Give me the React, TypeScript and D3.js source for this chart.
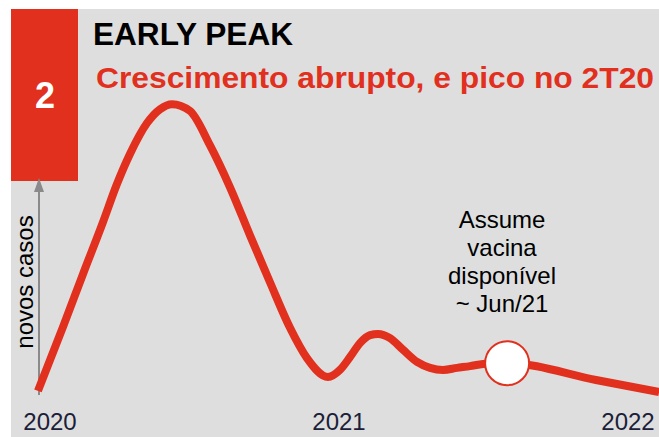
import React, { useEffect, useRef } from "react";
import * as d3 from "d3";

// months since Jan/2020 and relative new cases (schematic curve)
const months = [-0.5, 0.54, 1.37, 2.2, 2.78, 3.32, 4.03, 4.57, 5.07, 5.81, 6.64, 7.47, 8.3, 9.13, 9.97, 10.67, 11.54, 12.04, 12.46, 12.87, 13.29, 13.62, 14.12, 14.66, 15.24, 15.78, 16.32, 16.9, 17.44, 17.98, 18.98, 22.67, 25.29];
const cases = [1.4, 23.1, 41.0, 58.6, 71.5, 81.7, 92.2, 96.9, 98.6, 96.3, 84.7, 70.5, 54.2, 38.3, 22.7, 12.5, 6.1, 8.5, 12.9, 17.6, 20.3, 20.7, 19.3, 15.3, 11.2, 9.2, 8.5, 9.2, 9.8, 10.5, 10.8, 5.1, 1.0];
const tickMonths = [0, 12, 24];
const tickLabels = ["2020", "2021", "2022"];
const vaccineMonth = 18.98;
const vaccineCases = 10.8;
const noteLines = ["Assume", "vacina", "disponível", "~ Jun/21"];

const RED = "#e1301e";
const W = 659;
const H = 437;

export default function App() {
  const ref = useRef<SVGSVGElement>(null);

  useEffect(() => {
    const svg = d3.select(ref.current);
    svg.selectAll("*").remove();

    const x = d3.scaleLinear().domain([0, 24]).range([50, 628]);
    const y = d3.scaleLinear().domain([0, 100]).range([395, 100]);

    // background panel
    svg.append("rect").attr("x", 0).attr("y", 0).attr("width", W).attr("height", H).attr("fill", "#ffffff");
    svg.append("rect").attr("x", 11).attr("y", 9).attr("width", W - 11).attr("height", H - 9).attr("fill", "#dedede");

    // red number box
    svg.append("rect").attr("x", 11).attr("y", 9).attr("width", 67).attr("height", 172).attr("fill", RED);
    svg.append("text")
      .attr("x", 45).attr("y", 108)
      .attr("text-anchor", "middle")
      .attr("font-family", "Liberation Sans, Arial, sans-serif")
      .attr("font-weight", "bold")
      .attr("font-size", 36)
      .attr("fill", "#fff")
      .text("2");

    // titles
    svg.append("text")
      .attr("x", 93).attr("y", 45)
      .attr("font-family", "Liberation Sans, Arial, sans-serif")
      .attr("font-weight", "bold")
      .attr("font-size", 31)
      .attr("textLength", 200)
      .attr("lengthAdjust", "spacingAndGlyphs")
      .attr("fill", "#000")
      .text("EARLY PEAK");

    svg.append("text")
      .attr("x", 96).attr("y", 88)
      .attr("font-family", "Liberation Sans, Arial, sans-serif")
      .attr("font-weight", "bold")
      .attr("font-size", 30)
      .attr("textLength", 558)
      .attr("lengthAdjust", "spacingAndGlyphs")
      .attr("fill", RED)
      .text("Crescimento abrupto, e pico no 2T20");

    // y axis arrow
    const axisX = 39;
    svg.append("line")
      .attr("x1", axisX).attr("x2", axisX)
      .attr("y1", y(0)).attr("y2", 190)
      .attr("stroke", "#8a8a8a").attr("stroke-width", 2);
    svg.append("path")
      .attr("d", `M${axisX},178 L${axisX - 5},192 L${axisX + 5},192 Z`)
      .attr("fill", "#8a8a8a");

    svg.append("text")
      .attr("transform", `translate(33, 282) rotate(-90)`)
      .attr("text-anchor", "middle")
      .attr("font-family", "Liberation Sans, Arial, sans-serif")
      .attr("font-size", 24)
      .attr("fill", "#000")
      .text("novos casos");

    // x tick labels
    svg.selectAll("text.tick")
      .data(tickMonths)
      .enter()
      .append("text")
      .attr("class", "tick")
      .attr("x", (d) => x(d))
      .attr("y", 430)
      .attr("text-anchor", "middle")
      .attr("font-family", "Liberation Sans, Arial, sans-serif")
      .attr("font-size", 24)
      .attr("fill", "#1b2038")
      .text((d, i) => tickLabels[i]);

    // curve
    const pts: [number, number][] = months.map((m, i) => [m, cases[i]]);
    const line = d3.line<[number, number]>()
      .x((d) => x(d[0]))
      .y((d) => y(d[1]))
      .curve(d3.curveMonotoneX);

    svg.append("path")
      .attr("d", line(pts))
      .attr("fill", "none")
      .attr("stroke", RED)
      .attr("stroke-width", 8)
      .attr("stroke-linejoin", "round");

    // vaccine marker
    svg.append("circle")
      .attr("cx", x(vaccineMonth))
      .attr("cy", y(vaccineCases))
      .attr("r", 22)
      .attr("fill", "#fff")
      .attr("stroke", RED)
      .attr("stroke-width", 2);

    svg.selectAll("text.note")
      .data(noteLines)
      .enter()
      .append("text")
      .attr("class", "note")
      .attr("x", 502)
      .attr("y", (d, i) => 228 + i * 28)
      .attr("text-anchor", "middle")
      .attr("font-family", "Liberation Sans, Arial, sans-serif")
      .attr("font-size", 24)
      .attr("fill", "#000")
      .text((d) => d);
  }, []);

  return (
    <svg
      ref={ref}
      width={W}
      height={H}
      style={{ position: "absolute", left: 0, top: 0, display: "block" }}
    />
  );
}
